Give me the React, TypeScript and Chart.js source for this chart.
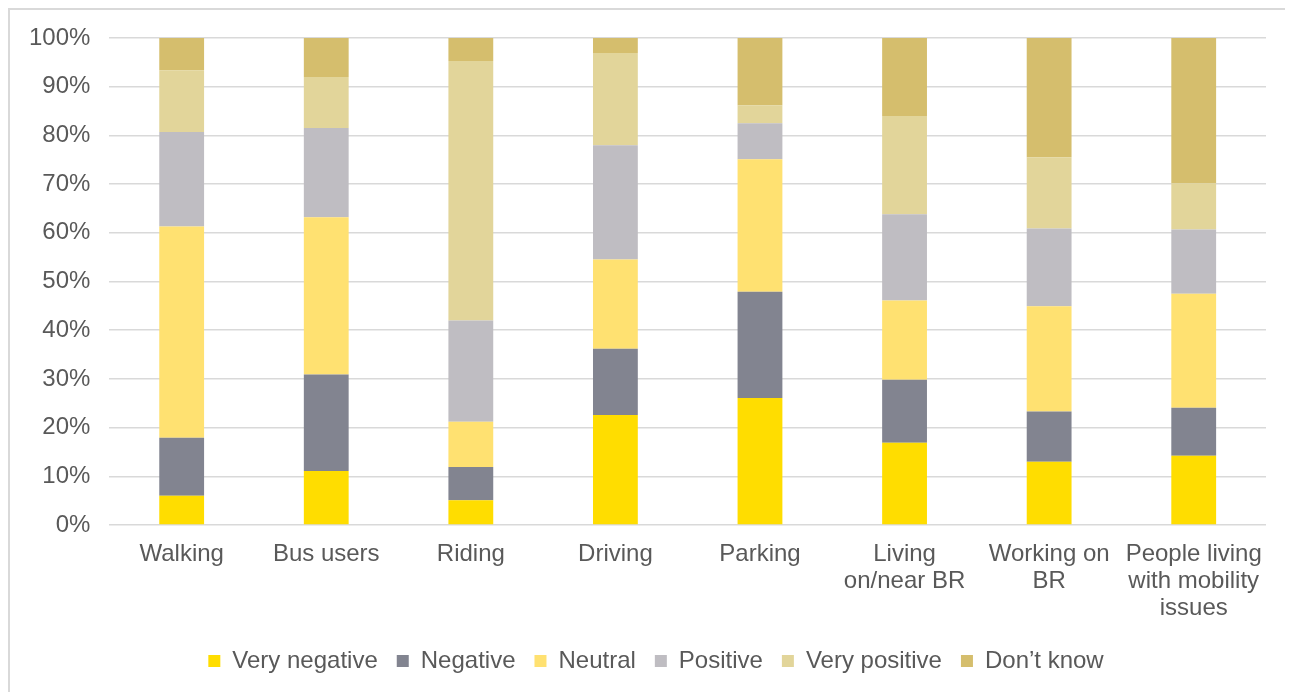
import React, { useEffect, useRef } from "react";
import { Chart, registerables } from "chart.js";

Chart.register(...registerables);

const categories: (string | string[])[] = [
  "Walking",
  "Bus users",
  "Riding",
  "Driving",
  "Parking",
  ["Living", "on/near BR"],
  ["Working on", "BR"],
  ["People living", "with mobility", "issues"],
];

const veryNegative = [6.0, 11.1, 5.1, 22.6, 26.1, 16.9, 13.0, 14.2];
const negative = [11.9, 19.8, 6.8, 13.6, 21.8, 12.9, 10.3, 9.9];
const neutral = [43.4, 32.3, 9.3, 18.3, 27.2, 16.3, 21.6, 23.4];
const positive = [19.4, 18.3, 20.8, 23.5, 7.4, 17.7, 16.0, 13.2];
const veryPositive = [12.7, 10.5, 53.3, 18.9, 3.7, 20.2, 14.6, 9.5];
const dontKnow = [6.6, 8.0, 4.7, 3.1, 13.8, 16.0, 24.5, 29.8];

const seriesNames = ["Very negative", "Negative", "Neutral", "Positive", "Very positive", "Don\u2019t know"];
const seriesColors = ["#FFDD00", "#828490", "#FFE171", "#BFBDC2", "#E2D59A", "#D5BE6D"];

const yTicks = [0, 10, 20, 30, 40, 50, 60, 70, 80, 90, 100];

const FONT = "Liberation Sans, Arial, sans-serif";

const legendShift = {
  id: "legendShift",
  afterLayout(chart: any) {
    const lg = chart.legend;
    if (lg) {
      lg.left += 18;
      lg.right += 18;
    }
  },
};

export default function App() {
  const ref = useRef<HTMLCanvasElement | null>(null);

  useEffect(() => {
    document.documentElement.style.overflow = "hidden";
    document.body.style.overflow = "hidden";
    if (!ref.current) return;
    const allData = [veryNegative, negative, neutral, positive, veryPositive, dontKnow];
    const chart = new Chart(ref.current, {
      type: "bar",
      data: {
        labels: categories as any,
        datasets: allData.map((d, i) => ({
          label: seriesNames[i],
          data: d,
          backgroundColor: seriesColors[i],
          borderWidth: 0,
          categoryPercentage: 1,
          barPercentage: 0.31,
        })),
      },
      plugins: [legendShift],
      options: {
        animation: false,
        responsive: false,
        maintainAspectRatio: false,
        layout: { padding: { left: 0, right: 34, top: 7, bottom: 17 } },
        plugins: {
          tooltip: { enabled: false },
          legend: {
            position: "bottom",
            labels: {
              boxWidth: 12,
              boxHeight: 12,
              padding: 19,
              color: "#595959",
              font: { family: FONT, size: 24 },
            },
          },
        },
        scales: {
          x: {
            stacked: true,
            grid: { display: false },
            border: { display: false },
            ticks: {
              color: "#595959",
              font: { family: FONT, size: 24, lineHeight: 1.125 },
              maxRotation: 0,
              autoSkip: false,
              padding: 8,
            },
          },
          y: {
            stacked: true,
            min: 0,
            max: 100,
            afterBuildTicks: (axis: any) => {
              axis.ticks = yTicks.map((v) => ({ value: v }));
            },
            grid: { color: "#D9D9D9", lineWidth: 1.5, drawTicks: false },
            border: { display: false },
            ticks: {
              color: "#595959",
              font: { family: FONT, size: 24, lineHeight: 0.75 },
              padding: 19,
              callback: (v: any) => v + "%",
            },
          },
        },
      },
    });
    return () => chart.destroy();
  }, []);

  return (
    <div
      style={{
        width: 1320,
        height: 720,
        boxSizing: "border-box",
        border: "2px solid #D9D9D9",
        background: "#fff",
        overflow: "hidden",
      }}
    >
      <canvas ref={ref} width={1290} height={690} style={{ display: "block" }} />
    </div>
  );
}
